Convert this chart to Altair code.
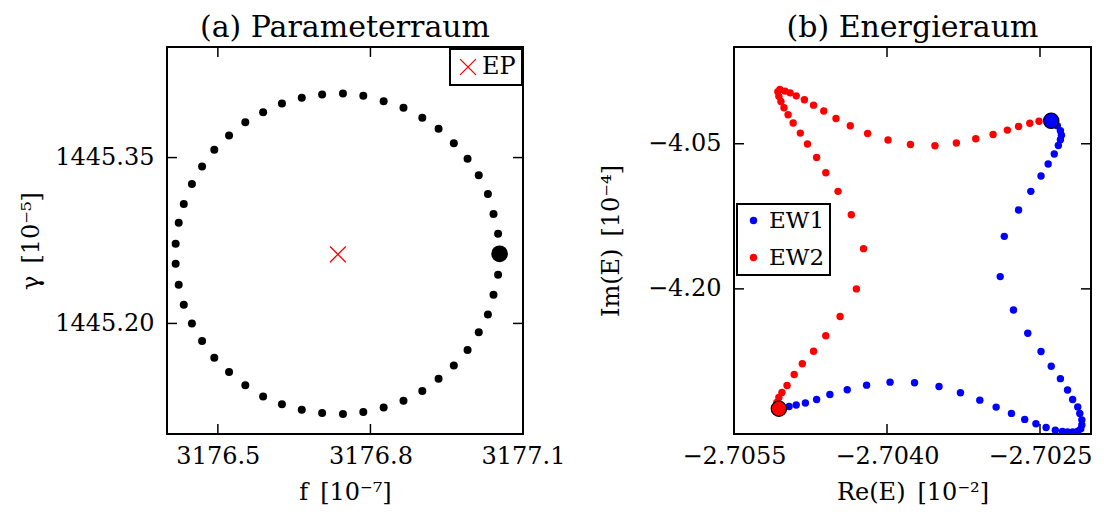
import altair as alt
import pandas as pd

FONT = "DejaVu Serif"

# ---------------- data ----------------
# (a) parameter space: circle around the EP, first entry = starting point
param_f = [3177.054, 3177.051, 3177.042, 3177.031, 3177.013, 3176.991, 3176.964, 3176.934,
           3176.902, 3176.865, 3176.826, 3176.786, 3176.746, 3176.705, 3176.665, 3176.626,
           3176.589, 3176.554, 3176.522, 3176.493, 3176.469, 3176.449, 3176.433, 3176.423,
           3176.417, 3176.417, 3176.423, 3176.433, 3176.449, 3176.469, 3176.493, 3176.522,
           3176.554, 3176.589, 3176.626, 3176.665, 3176.705, 3176.746, 3176.786, 3176.826,
           3176.865, 3176.902, 3176.934, 3176.964, 3176.991, 3177.013, 3177.031, 3177.042,
           3177.051]
param_gamma = [1445.263, 1445.281, 1445.299, 1445.317, 1445.334, 1445.349, 1445.363, 1445.376,
               1445.386, 1445.395, 1445.401, 1445.406, 1445.408, 1445.407, 1445.404, 1445.399,
               1445.391, 1445.382, 1445.370, 1445.357, 1445.342, 1445.326, 1445.308, 1445.291,
               1445.272, 1445.254, 1445.235, 1445.217, 1445.200, 1445.184, 1445.169, 1445.156,
               1445.144, 1445.134, 1445.127, 1445.122, 1445.119, 1445.118, 1445.120, 1445.124,
               1445.130, 1445.139, 1445.150, 1445.162, 1445.176, 1445.192, 1445.208, 1445.226,
               1445.244]
ep_f = [3176.736]
ep_gamma = [1445.2625]

# (b) energy space: first entry = starting point
ew1_re = [-2.70239, -2.70233, -2.70230, -2.70229, -2.70230, -2.70232, -2.70236, -2.70242,
          -2.70249, -2.70259, -2.70271, -2.70285, -2.70289, -2.70276, -2.70262, -2.70249,
          -2.70239, -2.70230, -2.70223, -2.70218, -2.70213, -2.70211, -2.70209, -2.70209,
          -2.70210, -2.70213, -2.70218, -2.70223, -2.70228, -2.70235, -2.70244, -2.70254,
          -2.70265, -2.70278, -2.70293, -2.70309, -2.70328, -2.70349, -2.70373, -2.70397,
          -2.70420, -2.70439, -2.70456, -2.70469, -2.70480, -2.70489, -2.70496]
ew1_im = [-4.0263, -4.0314, -4.0366, -4.0412, -4.0459, -4.0518, -4.0606, -4.0710,
          -4.0833, -4.0992, -4.1184, -4.1457, -4.1873, -4.2219, -4.2458, -4.2647,
          -4.2799, -4.2928, -4.3045, -4.3143, -4.3220, -4.3287, -4.3354, -4.3406,
          -4.3447, -4.3470, -4.3478, -4.3478, -4.3473, -4.3460, -4.3432, -4.3394,
          -4.3349, -4.3287, -4.3222, -4.3150, -4.3074, -4.3009, -4.2970, -4.2964,
          -4.2995, -4.3043, -4.3091, -4.3143, -4.3179, -4.3200, -4.3215]
ew2_re = [-2.70506, -2.70508, -2.70506, -2.70503, -2.70498, -2.70491, -2.70483, -2.70472,
          -2.70460, -2.70446, -2.70430, -2.70423, -2.70435, -2.70448, -2.70460, -2.70469,
          -2.70478, -2.70485, -2.70492, -2.70497, -2.70501, -2.70504, -2.70506, -2.70507,
          -2.70505, -2.70500, -2.70495, -2.70489, -2.70481, -2.70472, -2.70462, -2.70450,
          -2.70436, -2.70419, -2.70399, -2.70377, -2.70353, -2.70332, -2.70313, -2.70296,
          -2.70282, -2.70271, -2.70260, -2.70251]
ew2_im = [-4.3239, -4.3174, -4.3122, -4.3070, -4.2998, -4.2885, -4.2774, -4.2644,
          -4.2485, -4.2286, -4.2000, -4.1584, -4.1233, -4.0992, -4.0799, -4.0641,
          -4.0503, -4.0390, -4.0286, -4.0201, -4.0128, -4.0063, -4.0010, -3.9963,
          -3.9940, -3.9956, -3.9974, -4.0005, -4.0046, -4.0101, -4.0162, -4.0239,
          -4.0314, -4.0394, -4.0462, -4.0507, -4.0521, -4.0493, -4.0448, -4.0404,
          -4.0359, -4.0321, -4.0288, -4.0268]

f_ticks = [3176.5, 3176.8, 3177.1]
gamma_ticks = [1445.20, 1445.35]
re_ticks = [-2.7055, -2.7040, -2.7025]
im_ticks = [-4.20, -4.05]
f_domain = [3176.4, 3177.1]
gamma_domain = [1445.10, 1445.45]
re_domain = [-2.7055, -2.7020]
im_domain = [-4.35, -3.95]

series_names = ["EW1", "EW2"]
series_colors = ["#0000ff", "#ff0000"]

# ---------------- styling ----------------
W1, W2, H = 356, 357, 387
TICK = 10
LABEL_SIZE = 24
AXTITLE_SIZE = 24
TITLE_SIZE = 30
X_PATH = "M-1,-1L1,1M1,-1L-1,1"
GAP = "\u2002"

# ---------------- tables ----------------
param = pd.DataFrame({"f": param_f, "g": param_gamma, "i": list(range(len(param_f)))})
ep = pd.DataFrame({"f": ep_f, "g": ep_gamma, "k": ["EP"]})
ew = pd.concat([
    pd.DataFrame({"re": ew1_re, "im": ew1_im, "k": "EW1", "i": list(range(len(ew1_re)))}),
    pd.DataFrame({"re": ew2_re, "im": ew2_im, "k": "EW2", "i": list(range(len(ew2_re)))}),
], ignore_index=True)


def ax(fmt, vals, title, pad, tpad):
    return alt.Axis(values=vals, format=fmt, ticks=False, domain=False, grid=False,
                    labelPadding=pad, title=title, titlePadding=tpad, labelFlush=False,
                    labelOverlap=False)


def tick_layers(xfield, yfield, xscale, yscale, xaxis, yaxis, xv, yv, w):
    xt = pd.DataFrame({xfield: xv})
    yt = pd.DataFrame({yfield: yv})
    X = alt.X(f"{xfield}:Q", scale=xscale, axis=xaxis)
    Y = alt.Y(f"{yfield}:Q", scale=yscale, axis=yaxis)
    base_x = alt.Chart(xt).mark_rule(color="black", strokeWidth=1.5)
    base_y = alt.Chart(yt).mark_rule(color="black", strokeWidth=1.5)
    return [
        base_x.encode(x=X, y=alt.value(0), y2=alt.value(TICK)),
        base_x.encode(x=X, y=alt.value(H), y2=alt.value(H - TICK)),
        base_y.encode(y=Y, x=alt.value(0), x2=alt.value(TICK)),
        base_y.encode(y=Y, x=alt.value(w - TICK), x2=alt.value(w)),
    ]


# ---------------- panel (a) ----------------
xs1 = alt.Scale(domain=f_domain, nice=False, zero=False)
ys1 = alt.Scale(domain=gamma_domain, nice=False, zero=False)
xa1 = ax(".1f", f_ticks, "f" + GAP + "[10⁻⁷]", 10, 12)
ya1 = ax(".2f", gamma_ticks, "γ" + GAP + "[10⁻⁵]", 13, 11)
X1 = alt.X("f:Q", scale=xs1, axis=xa1)
Y1 = alt.Y("g:Q", scale=ys1, axis=ya1)

circ = alt.Chart(param).mark_circle(size=64, color="black", opacity=1, clip=True).encode(x=X1, y=Y1)
start1 = alt.Chart(param).transform_filter("datum.i == 0").mark_circle(
    size=280, color="black", opacity=1).encode(x=X1, y=Y1)
epm = alt.Chart(ep).mark_point(shape=X_PATH, size=250, filled=False, strokeWidth=1.3, opacity=1).encode(
    x=X1, y=Y1,
    color=alt.Color("k:N", scale=alt.Scale(domain=["EP"], range=["#ff0000"]),
                    legend=alt.Legend(title=None, orient="none", legendX=283, legendY=2,
                                      symbolType=X_PATH, symbolSize=250, symbolStrokeWidth=1.3,
                                      symbolFillColor="transparent", padding=6, labelOffset=2,
                                      labelFontSize=24)))

left = alt.layer(
    circ, start1, epm,
    *tick_layers("f", "g", xs1, ys1, xa1, ya1, f_ticks, gamma_ticks, W1)
).properties(width=W1, height=H,
             title=alt.TitleParams("(a) Parameterraum", font=FONT, fontSize=TITLE_SIZE,
                                   fontWeight="normal", color="black", offset=3))

# ---------------- panel (b) ----------------
xs2 = alt.Scale(domain=re_domain, nice=False, zero=False)
ys2 = alt.Scale(domain=im_domain, nice=False, zero=False)
xa2 = ax(".4f", re_ticks, "Re(E)" + GAP + "[10⁻²]", 10, 12)
ya2 = ax(".2f", im_ticks, "Im(E)" + GAP + "[10⁻⁴]", 13, 24)
X2 = alt.X("re:Q", scale=xs2, axis=xa2)
Y2 = alt.Y("im:Q", scale=ys2, axis=ya2)

pts = alt.Chart(ew).mark_circle(size=55, opacity=1, clip=True).encode(
    x=X2, y=Y2,
    color=alt.Color("k:N", scale=alt.Scale(domain=series_names, range=series_colors),
                    legend=alt.Legend(title=None, orient="none", legendX=3, legendY=157,
                                      symbolType="circle", symbolSize=55, rowPadding=13,
                                      padding=5, labelOffset=4)))
big1 = alt.Chart(ew).transform_filter("datum.i == 0 && datum.k == 'EW1'").mark_circle(
    size=235, fill=series_colors[0], stroke="black", strokeWidth=1.2, opacity=1).encode(x=X2, y=Y2)
big2 = alt.Chart(ew).transform_filter("datum.i == 0 && datum.k == 'EW2'").mark_circle(
    size=235, fill=series_colors[1], stroke="black", strokeWidth=1.2, opacity=1).encode(x=X2, y=Y2)

right = alt.layer(
    pts, big1, big2,
    *tick_layers("re", "im", xs2, ys2, xa2, ya2, re_ticks, im_ticks, W2)
).properties(width=W2, height=H,
             title=alt.TitleParams("(b) Energieraum", font=FONT, fontSize=TITLE_SIZE,
                                   fontWeight="normal", color="black", offset=3))

chart = alt.hconcat(left, right, spacing=211, bounds="flush").resolve_scale(
    color="independent").resolve_legend(color="independent").properties(
    padding={"left": 10, "top": 4, "right": 0, "bottom": 0}
).configure_view(stroke="black", strokeWidth=2).configure_axis(
    labelFont=FONT, labelFontSize=LABEL_SIZE, labelColor="black",
    titleFont=FONT, titleFontSize=AXTITLE_SIZE, titleFontWeight="normal", titleColor="black"
).configure_legend(
    labelFont=FONT, labelFontSize=23, labelColor="black", strokeColor="black",
    strokeWidth=2, fillColor="white", cornerRadius=0
)

chart.save("out.html", embed_options={"renderer": "svg", "actions": False})
